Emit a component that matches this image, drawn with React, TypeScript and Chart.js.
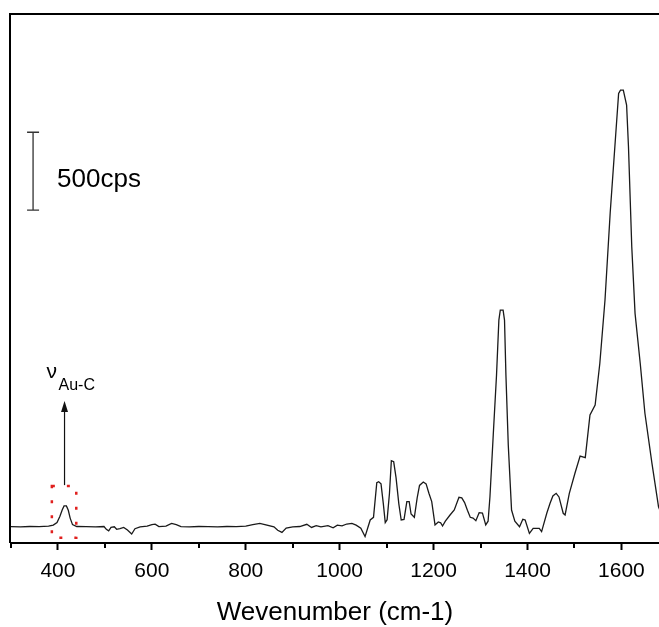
import React, { useEffect, useRef } from 'react';
import { Chart, registerables } from 'chart.js';

Chart.register(...registerables);

// Raman spectrum (wavenumber in cm-1, intensity in cps)
const wavenumbers = [
  300, 320, 340, 360, 380, 390, 398, 404, 409, 413, 418, 422, 426, 431, 440, 460, 480, 498, 503, 508,
  513, 520, 525, 532, 540, 548, 557, 564, 575, 590, 600, 607, 615, 630, 642, 652, 662, 680, 700, 720,
  740, 760, 780, 800, 815, 830, 845, 860, 868, 877, 886, 900, 915, 930, 940, 950, 960, 975, 986, 995,
  1005, 1015, 1026, 1035, 1045, 1054, 1060, 1065, 1072, 1079, 1083, 1088, 1093, 1097, 1101, 1106, 1110, 1115, 1120, 1126,
  1131, 1137, 1143, 1148, 1152, 1159, 1165, 1170, 1178, 1184, 1190, 1196, 1203, 1210, 1215, 1219, 1225, 1235, 1244, 1254,
  1260, 1266, 1272, 1278, 1284, 1290, 1297, 1304, 1311, 1316, 1320, 1327, 1334, 1339, 1342, 1348, 1351, 1354, 1359, 1366,
  1373, 1383, 1390, 1395, 1404, 1412, 1425, 1430, 1441, 1448, 1454, 1461, 1467, 1476, 1480, 1489, 1501, 1512, 1523, 1533,
  1544, 1554, 1565, 1576, 1587, 1594, 1598, 1604, 1611, 1615, 1622, 1629, 1640, 1650, 1665, 1679, 1690,
];
const intensities = [
  105, 104, 106, 105, 108, 115, 132, 170, 212, 238, 238, 210, 160, 118, 106, 105, 104, 106, 88, 78,
  100, 104, 88, 92, 100, 84, 58, 92, 104, 108, 118, 121, 105, 108, 126, 118, 105, 104, 106, 105,
  104, 106, 105, 108, 118, 126, 115, 104, 82, 68, 96, 104, 106, 120, 100, 112, 104, 112, 98, 115,
  110, 122, 126, 115, 95, 41, 100, 148, 165, 388, 394, 380, 250, 131, 150, 320, 529, 522, 420, 250,
  148, 152, 266, 266, 186, 165, 290, 370, 392, 380, 320, 266, 116, 135, 130, 109, 140, 180, 212, 294,
  290, 260, 210, 165, 160, 143, 195, 192, 116, 140, 297, 694, 1080, 1433, 1497, 1497, 1433, 1080, 630, 212,
  141, 105, 152, 148, 62, 94, 94, 73, 191, 255, 302, 319, 296, 191, 180, 319, 448, 559, 549, 823,
  887, 1155, 1562, 2119, 2590, 2890, 2911, 2911, 2815, 2547, 1904, 1476, 1155, 834, 512, 233, 150,
];

const xTickLabels = [400, 600, 800, 1000, 1200, 1400, 1600];
const axisTitle = 'Wevenumber (cm-1)';
const scaleBarLabel = '500cps';
const peakSymbol = 'ν';
const peakSubscript = 'Au-C';

const X_MIN = 300;
const X_MAX = 1680;
const Y_MIN = 0;
const Y_MAX = 3400;

// annotation anchors in data units
const scaleBarX = 347;
const scaleBarFrom = 2140;
const scaleBarSize = 500;
const peakBox = { x0: 387, x1: 439, y0: 34, y1: 366 };
const peakArrow = { x: 414, from: 372, to: 912 };

const FONT = "'Liberation Sans', Arial, sans-serif";

const decorPlugin = {
  id: 'decor',
  afterDraw(chart: any) {
    const { ctx, chartArea: ca } = chart;
    const xs = chart.scales.x;
    const ys = chart.scales.y;
    ctx.save();

    // frame: left and top
    ctx.strokeStyle = '#000';
    ctx.lineWidth = 2;
    ctx.setLineDash([]);
    ctx.beginPath();
    ctx.moveTo(ca.left - 1, ca.bottom);
    ctx.lineTo(ca.left - 1, ca.top);
    ctx.lineTo(ca.right + 2, ca.top);
    ctx.stroke();

    // minor ticks
    ctx.lineWidth = 2;
    for (let v = X_MIN; v <= X_MAX; v += 100) {
      if (v % 200 !== 0) {
        const px = Math.round(xs.getPixelForValue(v));
        ctx.beginPath();
        ctx.moveTo(px, ca.bottom);
        ctx.lineTo(px, ca.bottom + 5);
        ctx.stroke();
      }
    }

    // scale bar
    const bx = xs.getPixelForValue(scaleBarX);
    const by0 = ys.getPixelForValue(scaleBarFrom);
    const by1 = ys.getPixelForValue(scaleBarFrom + scaleBarSize);
    ctx.strokeStyle = '#333';
    ctx.lineWidth = 1.3;
    ctx.beginPath();
    ctx.moveTo(bx, by0);
    ctx.lineTo(bx, by1);
    ctx.moveTo(bx - 6, by0);
    ctx.lineTo(bx + 6, by0);
    ctx.moveTo(bx - 6, by1);
    ctx.lineTo(bx + 6, by1);
    ctx.stroke();
    ctx.fillStyle = '#000';
    ctx.font = `26px ${FONT}`;
    ctx.textBaseline = 'alphabetic';
    ctx.textAlign = 'left';
    ctx.fillText(scaleBarLabel, bx + 24, (by0 + by1) / 2 + 16);

    // red dotted box around peak
    ctx.strokeStyle = '#e0201e';
    ctx.lineWidth = 2.5;
    ctx.setLineDash([3, 12]);
    const rx0 = xs.getPixelForValue(peakBox.x0);
    const rx1 = xs.getPixelForValue(peakBox.x1);
    const ry0 = ys.getPixelForValue(peakBox.y1);
    const ry1 = ys.getPixelForValue(peakBox.y0);
    ctx.strokeRect(rx0, ry0, rx1 - rx0, ry1 - ry0);
    ctx.setLineDash([]);

    // arrow
    const ax = xs.getPixelForValue(peakArrow.x);
    const ay0 = ys.getPixelForValue(peakArrow.from);
    const ay1 = ys.getPixelForValue(peakArrow.to);
    ctx.strokeStyle = '#111';
    ctx.fillStyle = '#111';
    ctx.lineWidth = 1.2;
    ctx.beginPath();
    ctx.moveTo(ax, ay0);
    ctx.lineTo(ax, ay1 + 8);
    ctx.stroke();
    ctx.beginPath();
    ctx.moveTo(ax, ay1);
    ctx.lineTo(ax - 3.5, ay1 + 11);
    ctx.lineTo(ax + 3.5, ay1 + 11);
    ctx.closePath();
    ctx.fill();

    // label ν_Au-C
    ctx.fillStyle = '#000';
    ctx.font = `21px ${FONT}`;
    ctx.fillText(peakSymbol, ax - 18, ay1 - 23);
    ctx.font = `16px ${FONT}`;
    ctx.fillText(peakSubscript, ax - 6, ay1 - 11);

    ctx.restore();
  },
};

export default function App() {
  const canvasRef = useRef<HTMLCanvasElement | null>(null);

  useEffect(() => {
    document.body.style.margin = '0';
    const canvas = canvasRef.current;
    if (!canvas) return;
    const data = wavenumbers.map((x, i) => ({ x, y: intensities[i] }));
    const chart = new Chart(canvas, {
      type: 'line',
      data: {
        datasets: [
          {
            data,
            borderColor: '#1a1a1a',
            borderWidth: 1.3,
            pointRadius: 0,
            tension: 0,
            fill: false,
          },
        ],
      },
      options: {
        animation: false,
        responsive: false,
        devicePixelRatio: 1,
        layout: { padding: { left: 11, top: 14, right: 0, bottom: 0 } },
        plugins: {
          legend: { display: false },
          tooltip: { enabled: false },
        },
        scales: {
          x: {
            type: 'linear',
            min: X_MIN,
            max: X_MAX,
            afterFit: (scale: any) => {
              scale.height = 84;
            },
            border: { display: true, color: '#000', width: 2 },
            grid: {
              display: true,
              drawOnChartArea: false,
              drawTicks: true,
              tickLength: 7,
              tickWidth: 2,
              tickColor: (c: any) =>
                c.tick && xTickLabels.includes(c.tick.value) ? '#000' : 'rgba(0,0,0,0)',
            },
            ticks: {
              stepSize: 100,
              autoSkip: false,
              maxRotation: 0,
              includeBounds: false,
              padding: 9,
              color: '#000',
              font: { size: 21, family: FONT },
              callback: (v: any) => (xTickLabels.includes(Number(v)) ? String(v) : ''),
            },
            title: {
              display: true,
              text: axisTitle,
              color: '#000',
              font: { size: 26, family: FONT, lineHeight: 1 },
              padding: { top: 0, bottom: 1 },
            },
          },
          y: {
            display: false,
            min: Y_MIN,
            max: Y_MAX,
          },
        },
      },
      plugins: [decorPlugin],
    });
    return () => chart.destroy();
  }, []);

  return (
    <div style={{ width: 659, height: 627 }}>
      <canvas ref={canvasRef} width={659} height={627} style={{ display: 'block' }} />
    </div>
  );
}
